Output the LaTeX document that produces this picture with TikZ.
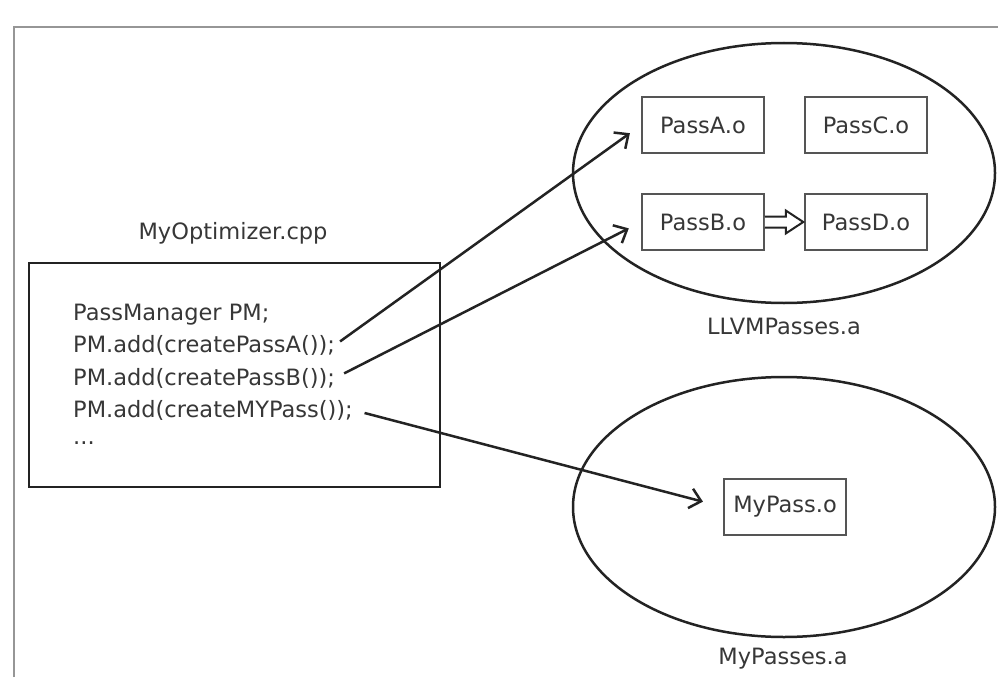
\documentclass[tikz,border=0pt]{standalone}
\usepackage{fontspec}
\setmainfont{DejaVu Sans}
\usetikzlibrary{arrows.meta,shapes.geometric,calc}
\definecolor{txt}{RGB}{55,55,55}
\definecolor{ln}{RGB}{35,35,35}
\definecolor{boxc}{RGB}{85,85,85}
\definecolor{frm}{RGB}{150,150,150}
\begin{document}
\begin{tikzpicture}[x=1pt,y=-1pt,
  every node/.style={font=\fontsize{22.5}{27}\selectfont, text=txt},
  obj/.style={draw=boxc, line width=1.5pt, minimum width=122pt, minimum height=56pt, inner sep=0pt},
  lib/.style={draw=ln, line width=2.5pt, ellipse, minimum width=422pt, minimum height=260pt, inner sep=0pt},
  srcbox/.style={draw=ln, line width=2.5pt, minimum width=411pt, minimum height=224pt, inner sep=0pt},
  code/.style={anchor=base west, inner sep=0pt},
  lbl/.style={anchor=base, inner sep=0pt},
  link/.style={draw=ln, line width=2.5pt, -{Straight Barb[length=11pt,width=20pt]}},
  hollow/.style={draw=ln, line width=2pt, fill=white, line join=miter}]

\fill[white] (0,0) rectangle (998,677);
\useasboundingbox (0,0) rectangle (998,677);
\draw[frm, line width=2pt] (14,677) -- (14,27) -- (998,27);

% libraries
\node[lib] (llvm) at (784,173) {};
\node[lib] (mine) at (784,507) {};
\node[lbl] (llvml) at (784,334) {LLVMPasses.a};
\node[lbl] (minel) at (783,664) {MyPasses.a};

% object files
\node[obj] (pa) at (703,125) {PassA.o};
\node[obj] (pc) at (866,125) {PassC.o};
\node[obj] (pb) at (703,222) {PassB.o};
\node[obj] (pd) at (866,222) {PassD.o};
\node[obj] (mp) at (785,507) {MyPass.o};

% hollow dependency arrow
\draw[hollow] ($(pb.east)+(0,-5.5)$) -- ($(pb.east)+(21,-5.5)$) -- ($(pb.east)+(21,-11.5)$)
  -- ($(pd.west)+(-1,0)$) -- ($(pb.east)+(21,11.5)$) -- ($(pb.east)+(21,5.5)$) -- ($(pb.east)+(0,5.5)$);

% source file
\node[lbl] (optl) at (233,239) {MyOptimizer.cpp};
\node[srcbox] (opt) at (234.5,375) {};
\node[code] (c0) at (73,320) {PassManager PM;};
\node[code] (c1) at (73,352) {PM.add(createPassA());};
\node[code] (c2) at (73,385) {PM.add(createPassB());};
\node[code] (c3) at (73,417) {PM.add(createMYPass());};
\node[code] (c4) at (73,444) {...};

% links
\draw[link, shorten <=6pt, shorten >=14pt] (c1.east) -- (pa.west);
\draw[link, shorten <=10pt, shorten >=14pt] (c2.east) -- (pb.west);
\draw[link, shorten <=12pt, shorten >=21pt] (c3.east) -- (mp.west);
\end{tikzpicture}
\end{document}
